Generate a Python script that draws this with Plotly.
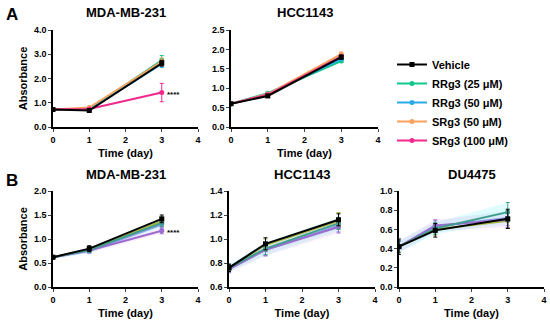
import plotly.graph_objects as go

W, H = 550, 324
days = [0, 1, 3]

series_names = ["Vehicle", "RRg3 (25 \u03bcM)", "RRg3 (50 \u03bcM)", "SRg3 (50 \u03bcM)", "SRg3 (100 \u03bcM)"]
colors_a = ["#000000", "#10C88A", "#2AAAE8", "#F7A25E", "#F2288C"]

# Panel A: MDA-MB-231
a1_vals = [[0.72, 0.68, 2.63], [0.72, 0.73, 2.75], [0.72, 0.72, 2.60], [0.72, 0.80, 2.70], [0.72, 0.74, 1.42]]
a1_err = [[0.03, 0.03, 0.12], [0.03, 0.04, 0.20], [0.03, 0.04, 0.15], [0.03, 0.04, 0.15], [0.03, 0.04, 0.38]]
# Panel A: HCC1143
a2_vals = [[0.60, 0.80, 1.80], [0.60, 0.87, 1.70], [0.60, 0.85, 1.75], [0.60, 0.85, 1.88], [0.60, 0.83, 1.82]]
a2_err = [[0.02, 0.02, 0.05], [0.02, 0.03, 0.04], [0.02, 0.03, 0.04], [0.02, 0.03, 0.05], [0.02, 0.03, 0.05]]

colors_b = ["#000000", "#A7B545", "#8E9BE6", "#9B6CCF", "#3E9E8C"]
# Panel B: MDA-MB-231
b1_vals = [[0.62, 0.80, 1.42], [0.62, 0.78, 1.37], [0.62, 0.75, 1.30], [0.62, 0.76, 1.17], [0.62, 0.77, 1.33]]
b1_err = [[0.03, 0.06, 0.08], [0.03, 0.05, 0.07], [0.03, 0.05, 0.07], [0.03, 0.05, 0.06], [0.03, 0.05, 0.07]]
# Panel B: HCC1143
b2_vals = [[0.76, 0.96, 1.16], [0.76, 0.95, 1.15], [0.75, 0.91, 1.11], [0.75, 0.91, 1.10], [0.76, 0.92, 1.13]]
b2_err = [[0.03, 0.05, 0.05], [0.03, 0.05, 0.07], [0.03, 0.05, 0.05], [0.03, 0.05, 0.05], [0.03, 0.05, 0.05]]
# Panel B: DU4475
b3_vals = [[0.42, 0.59, 0.71], [0.42, 0.60, 0.69], [0.42, 0.63, 0.72], [0.42, 0.64, 0.70], [0.42, 0.61, 0.78]]
b3_err = [[0.08, 0.07, 0.10], [0.06, 0.06, 0.08], [0.06, 0.06, 0.08], [0.06, 0.06, 0.08], [0.06, 0.06, 0.10]]

titles = ["MDA-MB-231", "HCC1143", "MDA-MB-231", "HCC1143", "DU4475"]
yranges = [[0, 4], [0, 2.5], [0, 2], [0.6, 1.4], [0, 1]]
ydticks = [1.0, 0.5, 0.5, 0.2, 0.2]

# pixel boxes (left, right, top, bottom)
boxes = [(53, 198, 30, 127), (231, 378, 30, 127), (53, 198, 191, 287), (229, 375, 191, 287), (399, 544, 191, 287)]

FONT = "Liberation Sans, Arial, sans-serif"
fig = go.Figure()

panels = [(a1_vals, a1_err, colors_a), (a2_vals, a2_err, colors_a),
          (b1_vals, b1_err, colors_b), (b2_vals, b2_err, colors_b), (b3_vals, b3_err, colors_b)]

for p, (vals, errs, cols) in enumerate(panels):
    xa = "x" if p == 0 else f"x{p+1}"
    ya = "y" if p == 0 else f"y{p+1}"
    if p >= 2:
        # light shaded bands
        for i in [4, 2, 3]:
            up = [v + e for v, e in zip(vals[i], errs[i])]
            lo = [v - e for v, e in zip(vals[i], errs[i])]
            fc = "rgba(170,245,250,0.35)" if i != 3 else "rgba(250,200,240,0.30)"
            fig.add_trace(go.Scatter(x=days, y=up, xaxis=xa, yaxis=ya, mode="lines",
                                     line=dict(width=0), showlegend=False, hoverinfo="skip"))
            fig.add_trace(go.Scatter(x=days, y=lo, xaxis=xa, yaxis=ya, mode="lines",
                                     line=dict(width=0), fill="tonexty", fillcolor=fc,
                                     showlegend=False, hoverinfo="skip"))
    order = [1, 2, 3, 4, 0]
    for i in order:
        fig.add_trace(go.Scatter(
            x=days, y=vals[i], xaxis=xa, yaxis=ya, mode="lines+markers",
            name=series_names[i], legendrank=i + 1,
            line=dict(color=cols[i], width=2),
            marker=dict(color=cols[i], size=5, symbol="square" if i == 0 else "circle"),
            error_y=dict(type="data", array=errs[i], color=cols[i], thickness=1, width=2),
            showlegend=(p == 0),
        ))

layout = dict(
    width=W, height=H, margin=dict(l=0, r=0, t=0, b=0, autoexpand=False),
    paper_bgcolor="white", plot_bgcolor="white",
    font=dict(family=FONT, color="black"),
    showlegend=True,
    legend=dict(x=392 / W, y=1 - 50 / H, xanchor="left", yanchor="top", traceorder="normal",
                font=dict(size=11, family=FONT, weight="bold"),
                itemwidth=30, tracegroupgap=0, bgcolor="rgba(0,0,0,0)"),
)
annotations = []
for p, (l, r, t, b) in enumerate(boxes):
    k = "" if p == 0 else str(p + 1)
    y0, y1 = yranges[p]
    layout[f"xaxis{k}"] = dict(
        domain=[l / W, r / W], anchor=f"y{k}" if k else "y", range=[0, 4],
        tickvals=[0, 1, 2, 3, 4], ticks="outside", ticklen=3, tickwidth=1.2,
        showline=True, linecolor="black", linewidth=1.5, showgrid=False, zeroline=False,
        tickfont=dict(size=9, weight="bold"), automargin=False,
        title=dict(text="Time (day)", font=dict(size=11, weight="bold"), standoff=6),
    )
    layout[f"yaxis{k}"] = dict(
        domain=[1 - b / H, 1 - t / H], anchor=f"x{k}" if k else "x", range=[y0, y1],
        dtick=ydticks[p], tick0=y0, tickformat=".1f", ticks="outside", ticklen=3, tickwidth=1.2,
        showline=True, linecolor="black", linewidth=1.5, showgrid=False, zeroline=False,
        tickfont=dict(size=9, weight="bold"), automargin=False,
        title=dict(text="Absorbance" if p in (0, 2) else "", font=dict(size=11, weight="bold"), standoff=4),
    )
    annotations.append(dict(text=titles[p], x=(l + r) / 2 / W, y=1 - (t - 17) / H,
                            xref="paper", yref="paper", showarrow=False,
                            font=dict(size=13, weight="bold"), xanchor="center", yanchor="middle"))

annotations.append(dict(text="A", x=12 / W, y=1 - 15 / H, xref="paper", yref="paper", showarrow=False,
                        font=dict(size=17, weight="bold"), xanchor="center", yanchor="middle"))
annotations.append(dict(text="B", x=12 / W, y=1 - 180 / H, xref="paper", yref="paper", showarrow=False,
                        font=dict(size=17, weight="bold"), xanchor="center", yanchor="middle"))
annotations.append(dict(text="****", x=3.33, y=a1_vals[4][2], xref="x", yref="y", showarrow=False,
                        font=dict(size=8, weight="bold"), yshift=-2))
annotations.append(dict(text="****", x=3.33, y=b1_vals[3][2], xref="x3", yref="y3", showarrow=False,
                        font=dict(size=8, weight="bold"), yshift=-2))
layout["annotations"] = annotations
fig.update_layout(**layout)
fig.write_html("out.html", config={"displayModeBar": False},
               post_script="document.body.style.margin='0';document.body.style.overflow='hidden';")
